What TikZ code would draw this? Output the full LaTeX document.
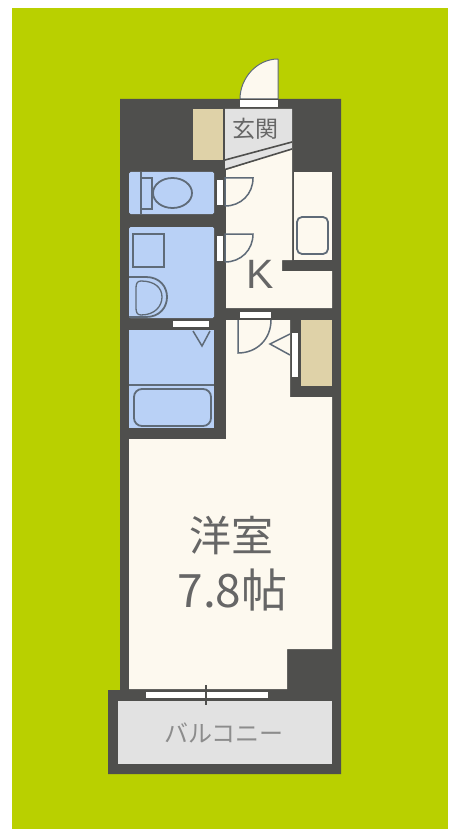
\documentclass[tikz,border=0pt]{standalone}
\usepackage{fontspec}
\setmainfont{Liberation Sans}
\newfontfamily\cjk{Noto Sans CJK JP}
\definecolor{bggreen}{HTML}{B9D000}
\definecolor{wall}{HTML}{4F4F4D}
\definecolor{cream}{HTML}{FDF9EF}
\definecolor{bluer}{HTML}{B9D1F6}
\definecolor{beige}{HTML}{DFD2A8}
\definecolor{lgrey}{HTML}{E2E2E2}
\definecolor{fixt}{HTML}{5F6B78}
\definecolor{txt}{HTML}{666666}
\tikzset{
  fixture/.style={draw=fixt,line width=1.8pt},
  doorline/.style={draw=fixt,line width=1.5pt},
  label/.style={inner sep=0pt,text=txt,font=\cjk},
  opening/.style={fill=white,draw=none},
}
\begin{document}
\begin{tikzpicture}[x=1pt,y=-1pt]
\useasboundingbox (0,0) rectangle (448,829);
\fill[white] (0,0) rectangle (448,829);
\fill[bggreen] (12,8) rectangle (448,829);
% entrance door swing
\path[fill=cream,draw=fixt,line width=1pt] (278,59) -- (278,99) -- (240,99) .. controls (240,78) and (257,59) .. (278,59);
% outer structure
\fill[wall] (120,99) -- (341,99) -- (341,774) -- (108,774) -- (108,690) -- (120,690) -- cycle;
\fill[opening] (240,100) rectangle (278,107);
% rooms
\fill[beige] (193,109) rectangle (223,160);
\fill[lgrey] (225,109) -- (292,109) -- (292,149) -- (225,170) -- cycle;
\fill[cream] (226,170) -- (292,149) -- (292,260) -- (282,260) -- (282,271) -- (332,271) -- (332,308) -- (226,308) -- cycle;
\fill[cream] (294,172) rectangle (332,260);
\draw[wall,line width=1.6pt] (225,160) -- (292,142);
\draw[wall,line width=1.6pt] (225,169.5) -- (292,149);
% sink
\draw[fixture,rounded corners=5pt] (297,217) rectangle (328,254);
% toilet room
\fill[bluer,rounded corners=1.5pt] (129,172) rectangle (214,214);
\draw[fixture] (141,172) -- (141,214);
\draw[fixture] (141,178) rectangle (152,209);
\draw[fixture] (172.5,193) ellipse [x radius=19.5pt,y radius=15pt];
\fill[opening] (217,180) rectangle (223,205);
\draw[doorline] (225,206) -- (225,178) -- (253,178) .. controls (253,194) and (241,206) .. (225,206);
% washroom
\fill[bluer,rounded corners=1.5pt] (129,227) rectangle (214,318);
\draw[fixture] (133,234) rectangle (164,267);
\draw[fixture] (129,277) -- (146,277) .. controls (160,277) and (167,287) .. (167,297) .. controls (167,307) and (160,317) .. (146,317) -- (129,317);
\draw[fixture,line width=1.3pt] (141,281) .. controls (155,281) and (162,288) .. (162,297) .. controls (162,306) and (155,315) .. (141,315) .. controls (137,315) and (136,312) .. (136,308) -- (136,288) .. controls (136,284) and (137,281) .. (141,281);
\fill[opening] (217,236) rectangle (223,261);
\draw[doorline] (225,262) -- (225,234) -- (253,234) .. controls (253,250) and (241,262) .. (225,262);
% bathroom
\fill[bluer] (129,330) rectangle (214,428);
\draw[fixture,line width=1.3pt] (129,385) -- (214,385);
\draw[fixture,rounded corners=8pt] (134,389) rectangle (211,426);
\fill[opening] (173,321) rectangle (209,327);
\draw[doorline] (193,331) -- (202,346) -- (210,331);
% main room
\fill[cream] (226,320) -- (290,320) -- (290,397) -- (332,397) -- (332,649) -- (287,649) -- (287,689) -- (129,689) -- (129,439) -- (226,439) -- cycle;
\fill[beige] (301,320) rectangle (332,386);
\fill[opening] (292,333) rectangle (298,377);
\fill[opening] (240,312) rectangle (271,318);
\draw[doorline] (238,320) -- (238,353) .. controls (257,353) and (271,339) .. (271,320);
\draw[doorline] (290,334) -- (270,344) -- (290,355);
% balcony
\fill[lgrey] (118,701) rectangle (332,764);
\fill[opening] (146,692) rectangle (268,698);
\draw[wall,line width=1.5pt] (206,685) -- (206,705);
% texts
\node[label,font=\cjk\fontsize{23pt}{25pt}\selectfont] (genkan) at (255,129) {玄関};
\node[label,font=\fontsize{41pt}{43pt}\selectfont] (kitchen) at (260,274) {K};
\node[label,font=\cjk\fontsize{42pt}{46pt}\selectfont] (youshitsu) at (231.5,536) {洋室};
\node[label,font=\cjk\fontsize{46pt}{50pt}\selectfont] (tatami) at (232.5,590) {7.8帖};
\node[label,text=txt!75,font=\cjk\fontsize{24pt}{26pt}\selectfont] (balcony) at (224,733) {バルコニー};
\end{tikzpicture}
\end{document}
